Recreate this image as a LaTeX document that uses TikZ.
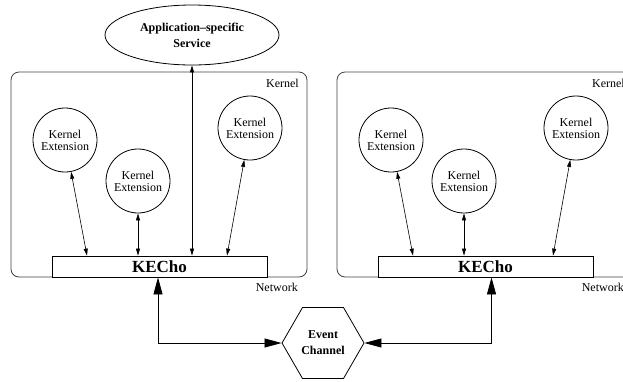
\documentclass[tikz,border=0pt]{standalone}
\usepackage{fontspec}
\setmainfont{Liberation Serif}
\usetikzlibrary{arrows.meta,shapes.geometric}

\begin{document}
\begin{tikzpicture}[x=1pt,y=-1pt,
    ext/.style={circle,draw,line width=0.8pt,minimum size=64pt,inner sep=0pt,align=center,
                font=\fontsize{12}{12}\selectfont},
    kecho/.style={draw,line width=0.8pt,fill=white,minimum width=215pt,minimum height=21pt,
                inner sep=0pt,font=\fontsize{17}{17}\selectfont\bfseries},
    panel/.style={draw=black!75,line width=0.8pt,rounded corners=8pt,minimum width=296pt,
                minimum height=205pt,inner sep=0pt},
    lbl/.style={inner sep=0pt,font=\fontsize{12}{12}\selectfont},
    small/.style={line width=0.6pt,{Triangle[length=7pt,width=4pt]}-{Triangle[length=7pt,width=4pt]}},
    big/.style={line width=0.8pt,{Triangle[length=17pt,width=9pt]}-{Triangle[length=17pt,width=9pt]}}]

  \useasboundingbox (0,0) rectangle (623,381);
  \clip (0,0) rectangle (623,381);

  % service on top
  \node[ellipse,draw,line width=0.8pt,minimum width=174pt,minimum height=60pt,inner sep=0pt,
        align=center,font=\fontsize{12}{16}\selectfont\bfseries] (app) at (192,35)
        {Application--specific\\Service};

  % the two hosts
  \foreach \dx/\p in {0/L,326/R} {
    \node[panel] (box\p) at (159+\dx,174.5) {};
    \node[lbl,anchor=base east] (kern\p) at (299+\dx,87) {Kernel};
    \node[lbl,anchor=base east] (net\p) at (298+\dx,291) {Network};
    \node[kecho] (k\p) at (159.5+\dx,266.5) {KECho};
    \node[ext] (ea\p) at (65+\dx,140) {Kernel\\Extension};
    \node[ext] (eb\p) at (138+\dx,181) {Kernel\\Extension};
    \node[ext] (ec\p) at (250+\dx,128) {Kernel\\Extension};
    \draw[small] (ea\p) -- ([xshift=-72.5pt]k\p.north);
    \draw[small] (eb\p) -- (eb\p |- k\p.north);
    \draw[small] (ec\p) -- ([xshift=67.5pt]k\p.north);
  }

  \draw[small] (app) -- (app |- kL.north);

  % event channel
  \node[regular polygon,regular polygon sides=6,draw,line width=0.8pt,minimum size=82pt,
        inner sep=0pt,align=center,font=\fontsize{12}{16}\selectfont\bfseries] (chan) at (323,343)
        {Event\\Channel};

  \draw[big] ([xshift=-1.5pt]kL.south) |- (chan.west);
  \draw[big] ([xshift=6pt]kR.south) |- (chan.east);

\end{tikzpicture}
\end{document}
